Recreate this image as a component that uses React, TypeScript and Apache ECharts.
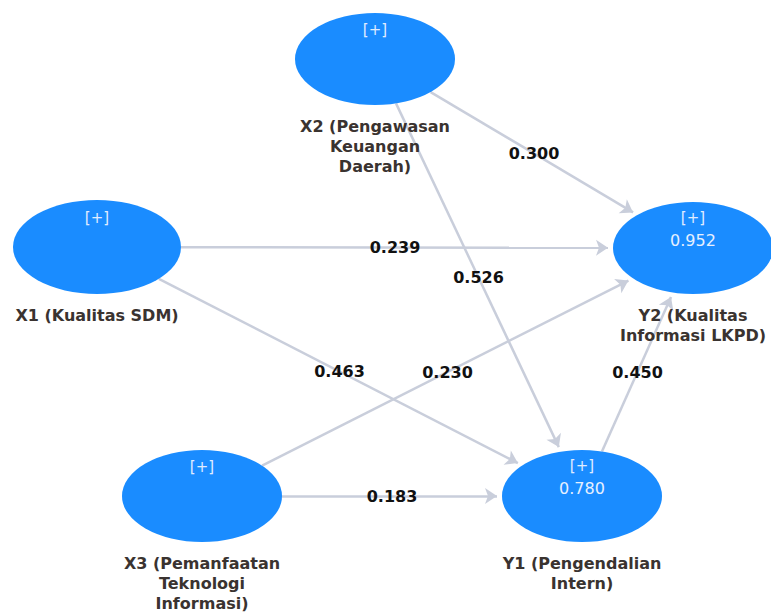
import React, { useEffect, useRef } from "react";
import * as echarts from "echarts";

// ---- data ----
const nodeIds = ["X1", "X2", "X3", "Y1", "Y2"];
const nodeNames = [
  "X1 (Kualitas SDM)",
  "X2 (Pengawasan\nKeuangan\nDaerah)",
  "X3 (Pemanfaatan\nTeknologi\nInformasi)",
  "Y1 (Pengendalian\nIntern)",
  "Y2 (Kualitas\nInformasi LKPD)",
];
const rSquared: (number | null)[] = [null, null, null, 0.78, 0.952];
const pathFrom = ["X2", "X1", "X2", "X1", "X3", "Y1", "X3"];
const pathTo = ["Y2", "Y2", "Y1", "Y1", "Y2", "Y2", "Y1"];
const pathCoef = [0.3, 0.239, 0.526, 0.463, 0.23, 0.45, 0.183];

// ---- layout (diagram coordinates, mapped through the axes) ----
const nodeLayout: Record<string, { x: number; y: number; w: number; h: number }> = {
  X1: { x: 97, y: 247, w: 168, h: 94 },
  X2: { x: 375, y: 59, w: 160, h: 92 },
  X3: { x: 202, y: 496, w: 160, h: 92 },
  Y1: { x: 582, y: 496, w: 160, h: 92 },
  Y2: { x: 693, y: 248, w: 160, h: 92 },
};

const ELLIPSE = "path://M0,50 A50,50 0 1,1 100,50 A50,50 0 1,1 0,50 Z";
const W = 771;
const H = 612;

function boundary(id: string, ux: number, uy: number) {
  const n = nodeLayout[id];
  const rx = n.w / 2;
  const ry = n.h / 2;
  const t = 1 / Math.sqrt((ux / rx) ** 2 + (uy / ry) ** 2);
  return [n.x + ux * t, n.y + uy * t];
}

export default function App() {
  const ref = useRef<HTMLDivElement>(null);
  useEffect(() => {
    if (!ref.current) return;
    const chart = echarts.init(ref.current, undefined, { renderer: "svg" });

    const edges = pathFrom.map((f, i) => {
      const t = pathTo[i];
      const a = nodeLayout[f];
      const b = nodeLayout[t];
      const dx = b.x - a.x;
      const dy = b.y - a.y;
      const len = Math.hypot(dx, dy);
      const ux = dx / len;
      const uy = dy / len;
      const s = boundary(f, ux, uy);
      const e0 = boundary(t, -ux, -uy);
      const e = [e0[0] - ux * 5, e0[1] - uy * 5];
      return { coords: [s, e] };
    });

    const edgeLabels = pathFrom.map((f, i) => {
      const a = nodeLayout[f];
      const b = nodeLayout[pathTo[i]];
      return [(a.x + b.x) / 2, (a.y + b.y) / 2, pathCoef[i]];
    });

    const nodeData = nodeIds.map((id, i) => {
      const n = nodeLayout[id];
      const r = rSquared[i];
      return {
        value: [n.x, n.y],
        symbolSize: [n.w, n.h],
        label: {
          formatter: r == null ? "{a|[+]}" : "{a|[+]}\n{b|" + r.toFixed(3) + "}",
          offset: r == null ? [0, -29] : [0, -19],
        },
      };
    });

    const nameData = nodeIds.map((id, i) => {
      const n = nodeLayout[id];
      return {
        value: [n.x, n.y],
        symbolSize: [n.w, n.h],
        name: nodeNames[i],
      };
    });

    chart.setOption({
      animation: false,
      backgroundColor: "#ffffff",
      grid: { left: 0, right: 0, top: 0, bottom: 0 },
      xAxis: { type: "value", min: 0, max: W, show: false },
      yAxis: { type: "value", min: 0, max: H, inverse: true, show: false },
      series: [
        {
          type: "lines",
          coordinateSystem: "cartesian2d",
          z: 1,
          symbol: ["none", "arrow"],
          symbolSize: 12,
          lineStyle: { color: "#c9cedb", width: 2.5, opacity: 1, curveness: 0 },
          data: edges,
          silent: true,
        },
        {
          type: "scatter",
          z: 3,
          symbol: ELLIPSE,
          itemStyle: { color: "#1a8cff", opacity: 1 },
          label: {
            show: true,
            position: "inside",
            rich: {
              a: { fontFamily: "DejaVu Sans", fontSize: 15, color: "#e0ecff", lineHeight: 22 },
              b: { fontFamily: "DejaVu Sans", fontSize: 16, color: "#e6f0ff", lineHeight: 22 },
            },
          },
          data: nodeData,
          silent: true,
        },
        {
          type: "scatter",
          z: 3,
          symbol: ELLIPSE,
          itemStyle: { color: "rgba(0,0,0,0)", opacity: 1 },
          label: {
            show: true,
            position: "bottom",
            distance: 11,
            formatter: (p: any) => p.name,
            fontFamily: "DejaVu Sans",
            fontWeight: "bold",
            fontSize: 16,
            lineHeight: 20,
            color: "#3a3330",
            align: "center",
          },
          data: nameData,
          silent: true,
        },
        {
          type: "scatter",
          z: 5,
          symbolSize: 0,
          itemStyle: { opacity: 1 },
          label: {
            show: true,
            position: "inside",
            formatter: (p: any) => Number(p.value[2]).toFixed(3),
            fontFamily: "DejaVu Sans",
            fontWeight: "bold",
            fontSize: 16,
            color: "#111111",
          },
          data: edgeLabels,
          silent: true,
        },
      ],
    });
    return () => chart.dispose();
  }, []);

  return (
    <div
      ref={ref}
      style={{ position: "fixed", left: 0, top: 0, width: W + "px", height: H + "px" }}
    />
  );
}
